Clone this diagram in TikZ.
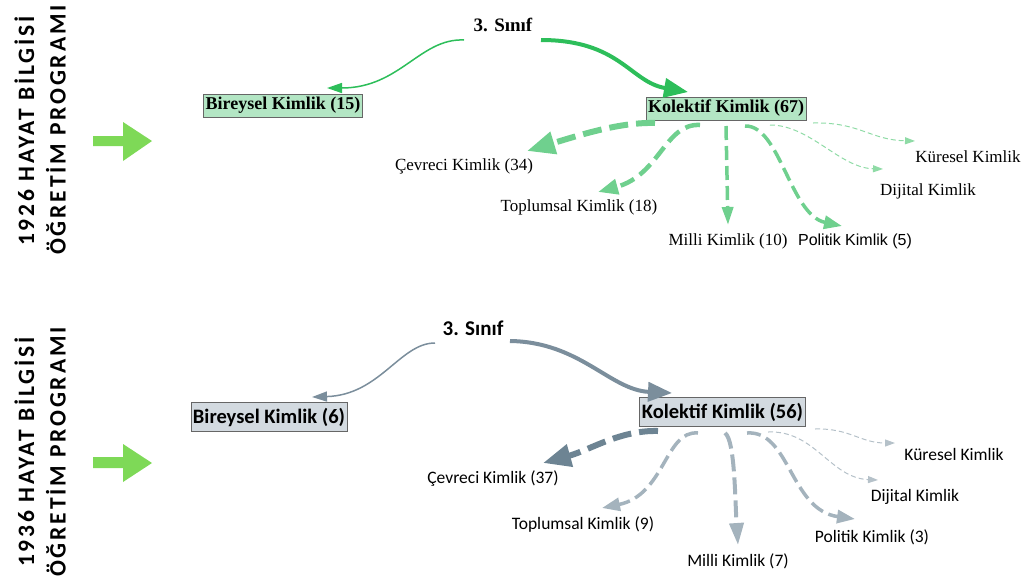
\documentclass[tikz,border=0pt]{standalone}
\usepackage{fontspec}
\setmainfont{Liberation Serif}
\newfontfamily\calfont{Carlito}
\newfontfamily\calspaced[LetterSpace=12]{Carlito}
\newfontfamily\arialfont{Liberation Sans}
\usetikzlibrary{arrows.meta,calc}
\definecolor{gA}{HTML}{2DBE5A}
\definecolor{gB}{HTML}{6FD08E}
\definecolor{gC}{HTML}{8FDBA6}
\definecolor{gFill}{HTML}{B3E6C4}
\definecolor{bA}{HTML}{7B8E9C}
\definecolor{bB}{HTML}{6D8493}
\definecolor{bC}{HTML}{A4B3BD}
\definecolor{bD}{HTML}{B5C1C9}
\definecolor{bFill}{HTML}{D3DAE0}
\definecolor{bigG}{HTML}{7ED957}
\begin{document}
\begin{tikzpicture}[x=1pt,y=-1pt,
  kbox/.style={draw=black!60, line width=0.9pt, inner xsep=2pt, inner ysep=0pt, minimum height=#1},
  lbl/.style={inner sep=0pt},
  vtext/.style={rotate=90, inner sep=0pt, font=\calspaced\bfseries\fontsize{23.5}{23.5}\selectfont},
  ah/.style 2 args={-{Triangle[length=#1, width=#2]}},
  bigarrow/.style={fill=bigG, draw=none}
]
\useasboundingbox (0,0) rectangle (1029,584);

% ---------- left titles ----------
\node[vtext] (t1a) at (24.5,131) {1926 HAYAT BİLGİSİ};
\node[vtext] (t1b) at (56,130) {ÖĞRETİM PROGRAMI};
\node[vtext] (t2a) at (24.5,452) {1936 HAYAT BİLGİSİ};
\node[vtext] (t2b) at (56,452) {ÖĞRETİM PROGRAMI};
\path[bigarrow] (93,136)--(123,136)--(123,122)--(152,141)--(123,161)--(123,146)--(93,146)--cycle;
\path[bigarrow] (93,457)--(123,457)--(123,444)--(152,463)--(123,482)--(123,468)--(93,468)--cycle;

% ---------- 1926 ----------
\node[lbl, font=\bfseries\fontsize{19}{19}\selectfont] (s1) at (503,25) {3. Sınıf};
\node[kbox=23pt, fill=gFill, font=\bfseries\fontsize{18}{18}\selectfont] (b1) at (283,105.5) {Bireysel Kimlik (15)};
\node[kbox=23pt, fill=gFill, font=\bfseries\fontsize{18}{18}\selectfont] (k1) at (726,108.5) {Kolektif Kimlik (67)};

\node[lbl, font=\fontsize{17}{17}\selectfont] (cev1) at (464,166) {Çevreci Kimlik (34)};
\node[lbl, font=\fontsize{17}{17}\selectfont] (top1) at (579,207) {Toplumsal Kimlik (18)};
\node[lbl, font=\fontsize{17}{17}\selectfont] (mil1) at (728,241) {Milli Kimlik (10)};
\node[lbl, font=\arialfont\fontsize{16}{16}\selectfont] (pol1) at (855,241) {Politik Kimlik (5)};
\node[lbl, font=\fontsize{17}{17}\selectfont] (dij1) at (928,191) {Dijital Kimlik};
\node[lbl, font=\fontsize{17}{17}\selectfont] (kur1) at (968,157) {Küresel Kimlik};

\coordinate (s1l) at (464,40);
\coordinate (s1r) at (541,40);
\coordinate (b1t) at (327,88);
\coordinate (k1t) at (688,92);
\draw[gA, line width=1.5pt, ah={15pt}{10pt}] (s1l) .. controls (420,38) and (400,88) .. (b1t);
\draw[gA, line width=4pt, ah={24pt}{19pt}] (s1r) .. controls (620,40) and (630,82) .. (k1t);

\coordinate (k1a) at (655,123);
\coordinate (k1b) at (700,125);
\coordinate (k1c) at (726,126);
\coordinate (k1d) at (745,126);
\coordinate (k1e) at (770,125);
\coordinate (k1f) at (813,123);
\coordinate (cev1e) at (527,151);
\coordinate (top1e) at (598,192);
\coordinate (mil1e) at (728,225);
\coordinate (pol1e) at (842,226);
\coordinate (dij1e) at (883,169);
\coordinate (kur1e) at (915,141);
\draw[gB, line width=6pt, dash pattern=on 19pt off 8pt, ah={28pt}{22pt}] (k1a) .. controls (620,122) and (580,135) .. (cev1e);
\draw[gB, line width=4.5pt, dash pattern=on 15pt off 7pt, ah={20pt}{15pt}] (k1b) .. controls (665,123) and (660,175) .. (top1e);
\draw[gB, line width=3.5pt, dash pattern=on 14pt off 6pt, ah={18pt}{11pt}] (k1c) -- (mil1e);
\draw[gB, line width=3.5pt, dash pattern=on 14pt off 6pt, ah={18pt}{13pt}] (k1d) .. controls (780,125) and (790,215) .. (pol1e);
\draw[gC, line width=1pt, dash pattern=on 5pt off 3pt, ah={10pt}{7pt}] (k1e) .. controls (810,125) and (840,168) .. (dij1e);
\draw[gC, line width=1pt, dash pattern=on 5pt off 3pt, ah={10pt}{7pt}] (k1f) .. controls (860,122) and (870,140) .. (kur1e);

% ---------- 1936 ----------
\node[lbl, font=\calfont\bfseries\fontsize{21}{21}\selectfont] (s2) at (473,328) {3. Sınıf};
\node[kbox=29pt, fill=bFill, font=\calfont\bfseries\fontsize{20.5}{20.5}\selectfont] (b2) at (269,417) {Bireysel Kimlik (6)};
\node[kbox=29pt, fill=bFill, font=\calfont\bfseries\fontsize{20.5}{20.5}\selectfont] (k2) at (722.5,412) {Kolektif Kimlik (56)};

\node[lbl, font=\calfont\fontsize{17.5}{17.5}\selectfont] (cev2) at (493,479) {Çevreci Kimlik (37)};
\node[lbl, font=\calfont\fontsize{17.5}{17.5}\selectfont] (top2) at (583,525) {Toplumsal Kimlik (9)};
\node[lbl, font=\calfont\fontsize{17.5}{17.5}\selectfont] (mil2) at (738,561) {Milli Kimlik (7)};
\node[lbl, font=\calfont\fontsize{17.5}{17.5}\selectfont] (pol2) at (872,537) {Politik Kimlik (3)};
\node[lbl, font=\calfont\fontsize{17.5}{17.5}\selectfont] (dij2) at (915,497) {Dijital Kimlik};
\node[lbl, font=\calfont\fontsize{17.5}{17.5}\selectfont] (kur2) at (954,454) {Küresel Kimlik};

\coordinate (s2l) at (435,343);
\coordinate (s2r) at (510,341);
\coordinate (b2t) at (312,397);
\coordinate (k2t) at (672,393);
\draw[bA, line width=1.5pt, ah={15pt}{10pt}] (s2l) .. controls (400,343) and (380,395) .. (b2t);
\draw[bA, line width=4pt, ah={24pt}{19pt}] (s2r) .. controls (580,342) and (610,390) .. (k2t);

\coordinate (k2a) at (658,431);
\coordinate (k2b) at (698,433);
\coordinate (k2c) at (725,433);
\coordinate (k2d) at (747,433);
\coordinate (k2e) at (768,432);
\coordinate (k2f) at (815,429);
\coordinate (cev2e) at (543,463);
\coordinate (top2e) at (602,508);
\coordinate (mil2e) at (738,545);
\coordinate (pol2e) at (855,519);
\coordinate (dij2e) at (878,480);
\coordinate (kur2e) at (895,443);
\draw[bB, line width=6pt, dash pattern=on 19pt off 8pt, ah={28pt}{22pt}] (k2a) .. controls (620,430) and (590,450) .. (cev2e);
\draw[bC, line width=3.5pt, dash pattern=on 14pt off 6pt, ah={18pt}{13pt}] (k2b) .. controls (665,430) and (665,495) .. (top2e);
\draw[bC, line width=4pt, dash pattern=on 17pt off 6pt, ah={22pt}{14pt}] (k2c) .. controls (735,440) and (735,500) .. (mil2e);
\draw[bC, line width=3.5pt, dash pattern=on 14pt off 6pt, ah={18pt}{13pt}] (k2d) .. controls (790,430) and (790,510) .. (pol2e);
\draw[bD, line width=1pt, dash pattern=on 5pt off 3pt, ah={10pt}{7pt}] (k2e) .. controls (815,430) and (830,478) .. (dij2e);
\draw[bD, line width=1pt, dash pattern=on 5pt off 3pt, ah={10pt}{7pt}] (k2f) .. controls (850,428) and (860,443) .. (kur2e);
\end{tikzpicture}
\end{document}
